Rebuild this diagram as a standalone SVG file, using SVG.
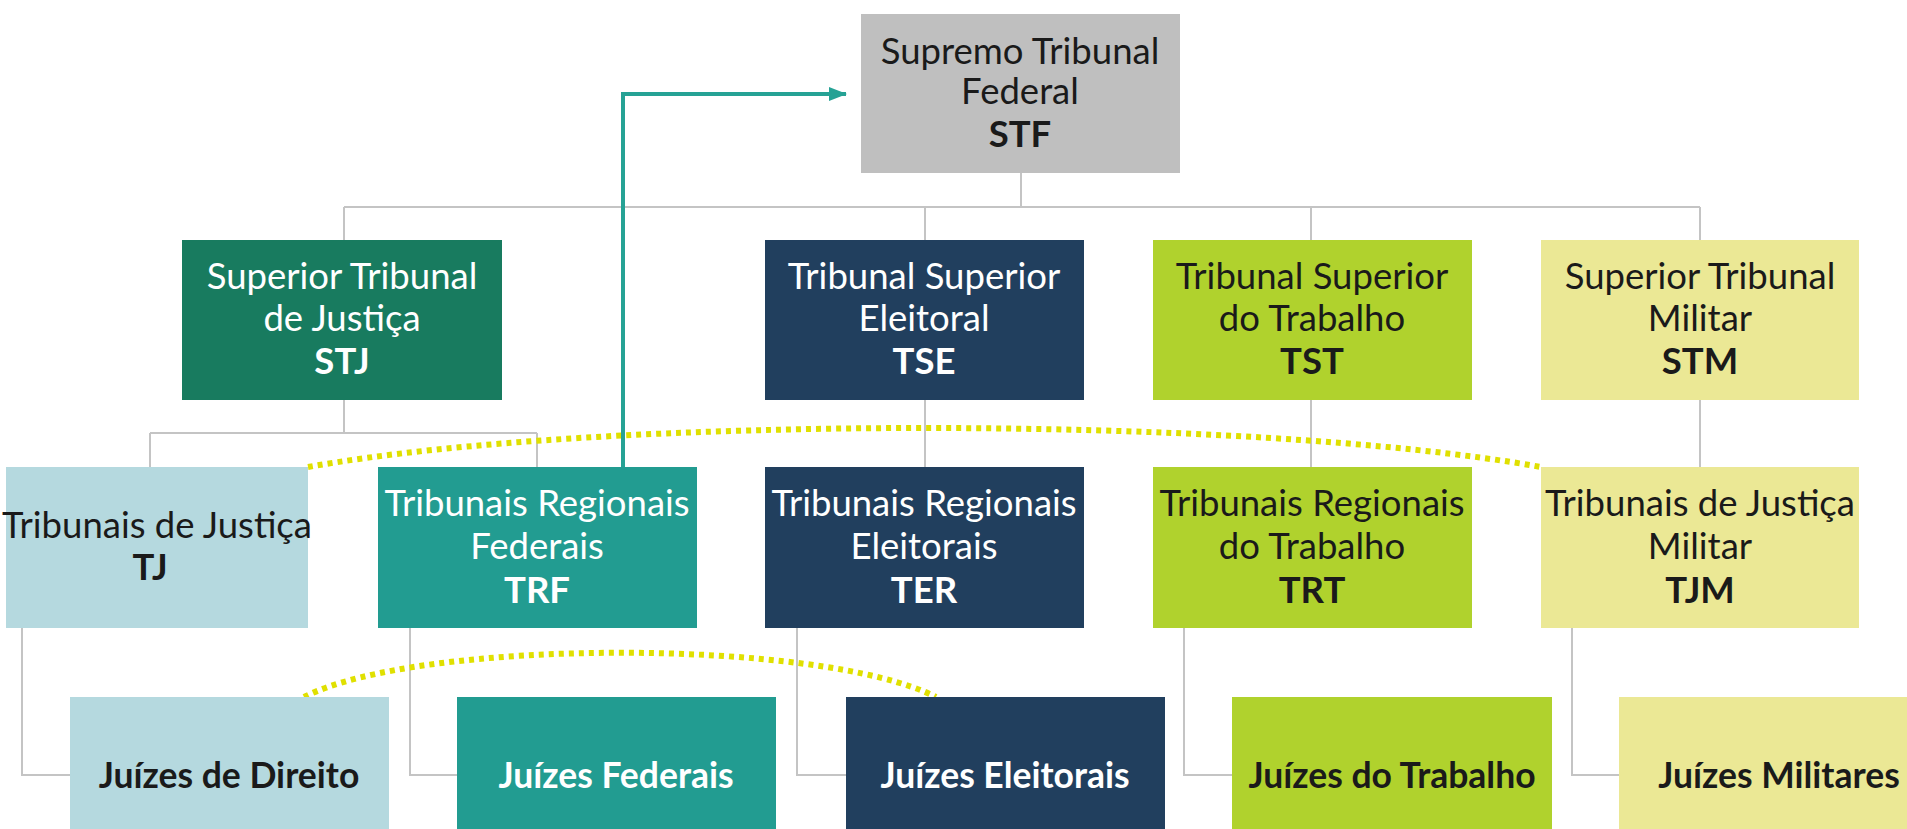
<svg xmlns="http://www.w3.org/2000/svg" width="1907" height="829" viewBox="0 0 1907 829">
<defs>
<style>
.t{font-family:Lato,"Open Sans","Liberation Sans",sans-serif;font-size:36.5px;text-anchor:middle}
.b{font-weight:bold}
.j{font-size:35.5px;font-weight:bold}
.dk{fill:#1a1a1a}
.wh{fill:#ffffff}
.conn{fill:none;stroke:#c4c4c4;stroke-width:2}
.dot{fill:none;stroke:#e0e000;stroke-width:6;stroke-dasharray:5 5}
.gray{fill:#bfbfbf}
.stj{fill:#187b5f}
.navy{fill:#213f5e}
.lime{fill:#b0d22d}
.pale{fill:#ebe895}
.lblue{fill:#b5d9df}
.teal{fill:#229c91}
</style>
<marker id="ah" markerWidth="18" markerHeight="14" refX="17" refY="7" orient="auto" markerUnits="userSpaceOnUse">
<path d="M0,0 L18,7 L0,14 Z" fill="#26a295"/>
</marker>
</defs>
<rect x="0" y="0" width="1907" height="829" fill="#ffffff"/>
<g id="connectors">
<path class="conn" d="M1021,173 V207 M344,207 H1700 M344,207 V240 M925,207 V240 M1311,207 V240 M1700,207 V240"/>
<path class="conn" d="M344,400 V433 M150,433 H537 M150,433 V467 M537,433 V467"/>
<path class="conn" d="M925,400 V467 M1311,400 V467 M1700,400 V467"/>
<path class="conn" d="M22,628 V775 H70 M410,628 V775 H457 M797,628 V775 H846 M1184,628 V775 H1232 M1572,628 V775 H1619"/>
<path class="dot" d="M308,467 C600,415 1250,415 1541,467"/>
<path class="dot" d="M304,697 C420,638 820,638 936,697"/>
<path d="M623,467 V94 H846" fill="none" stroke="#26a295" stroke-width="4" marker-end="url(#ah)"/>
</g>
<g id="stf">
<rect class="gray" x="861" y="14" width="319" height="159"/>
<text class="t dk" x="1020" y="64">Supremo Tribunal</text>
<text class="t dk" x="1020" y="104">Federal</text>
<text class="t dk b" x="1020" y="147">STF</text>
</g>
<g id="stj">
<rect class="stj" x="182" y="240" width="320" height="160"/>
<text class="t wh" x="342" y="289">Superior Tribunal</text>
<text class="t wh" x="342" y="331">de Justiça</text>
<text class="t wh b" x="342" y="374">STJ</text>
</g>
<g id="tse">
<rect class="navy" x="765" y="240" width="319" height="160"/>
<text class="t wh" x="924" y="289">Tribunal Superior</text>
<text class="t wh" x="924" y="331">Eleitoral</text>
<text class="t wh b" x="924" y="374">TSE</text>
</g>
<g id="tst">
<rect class="lime" x="1153" y="240" width="319" height="160"/>
<text class="t dk" x="1312" y="289">Tribunal Superior</text>
<text class="t dk" x="1312" y="331">do Trabalho</text>
<text class="t dk b" x="1312" y="374">TST</text>
</g>
<g id="stm">
<rect class="pale" x="1541" y="240" width="318" height="160"/>
<text class="t dk" x="1700" y="289">Superior Tribunal</text>
<text class="t dk" x="1700" y="331">Militar</text>
<text class="t dk b" x="1700" y="374">STM</text>
</g>
<g id="tj">
<rect class="lblue" x="6" y="467" width="302" height="161"/>
<text class="t dk" x="157" y="538">Tribunais de Justiça</text>
<text class="t dk b" x="150" y="580">TJ</text>
</g>
<g id="trf">
<rect class="teal" x="378" y="467" width="319" height="161"/>
<text class="t wh" x="537" y="516">Tribunais Regionais</text>
<text class="t wh" x="537" y="559">Federais</text>
<text class="t wh b" x="537" y="603">TRF</text>
</g>
<g id="ter">
<rect class="navy" x="765" y="467" width="319" height="161"/>
<text class="t wh" x="924" y="516">Tribunais Regionais</text>
<text class="t wh" x="924" y="559">Eleitorais</text>
<text class="t wh b" x="924" y="603">TER</text>
</g>
<g id="trt">
<rect class="lime" x="1153" y="467" width="319" height="161"/>
<text class="t dk" x="1312" y="516">Tribunais Regionais</text>
<text class="t dk" x="1312" y="559">do Trabalho</text>
<text class="t dk b" x="1312" y="603">TRT</text>
</g>
<g id="tjm">
<rect class="pale" x="1541" y="467" width="318" height="161"/>
<text class="t dk" x="1700" y="516">Tribunais de Justiça</text>
<text class="t dk" x="1700" y="559">Militar</text>
<text class="t dk b" x="1700" y="603">TJM</text>
</g>
<g id="juizes-direito">
<rect class="lblue" x="70" y="697" width="319" height="140"/>
<text class="t dk j" x="229" y="788">Juízes de Direito</text>
</g>
<g id="juizes-federais">
<rect class="teal" x="457" y="697" width="319" height="140"/>
<text class="t wh j" x="616" y="788">Juízes Federais</text>
</g>
<g id="juizes-eleitorais">
<rect class="navy" x="846" y="697" width="319" height="140"/>
<text class="t wh j" x="1005" y="788">Juízes Eleitorais</text>
</g>
<g id="juizes-trabalho">
<rect class="lime" x="1232" y="697" width="320" height="140"/>
<text class="t dk j" x="1392" y="788">Juízes do Trabalho</text>
</g>
<g id="juizes-militares">
<rect class="pale" x="1619" y="697" width="320" height="140"/>
<text class="t dk j" x="1779" y="788">Juízes Militares</text>
</g>
</svg>
